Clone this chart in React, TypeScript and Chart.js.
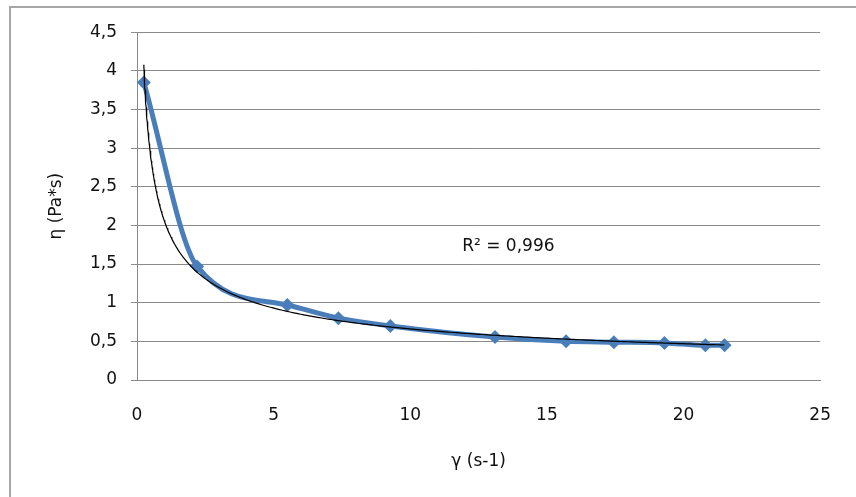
import React, { useEffect, useRef } from "react";
import { Chart, registerables } from "chart.js";

Chart.register(...registerables);

// Measured data (shear rate γ in s-1, viscosity η in Pa*s)
const shearRate = [0.25, 2.2, 5.5, 7.37, 9.27, 13.1, 15.7, 17.45, 19.3, 20.8, 21.5];
const viscosity = [3.85, 1.47, 0.97, 0.8, 0.7, 0.556, 0.5, 0.49, 0.48, 0.45, 0.45];

const xTickValues = [0, 5, 10, 15, 20, 25];
const yTickValues = [0, 0.5, 1, 1.5, 2, 2.5, 3, 3.5, 4, 4.5];

const xTitle = "γ (s-1)";
const yTitle = "η (Pa*s)";
const r2Label = "R² = 0,996";
const r2Anchor = { x: 11.9, y: 1.72 };

const FONT = "'DejaVu Sans', 'Open Sans', sans-serif";
const FONT_SIZE = 17;

// Power-law trendline (least squares in log-log space, like a spreadsheet trendline)
function powerFit(xs: number[], ys: number[]) {
  const lx = xs.map(Math.log);
  const ly = ys.map(Math.log);
  const n = xs.length;
  const mx = lx.reduce((a, b) => a + b, 0) / n;
  const my = ly.reduce((a, b) => a + b, 0) / n;
  let sxy = 0;
  let sxx = 0;
  for (let i = 0; i < n; i++) {
    sxy += (lx[i] - mx) * (ly[i] - my);
    sxx += (lx[i] - mx) * (lx[i] - mx);
  }
  const b = sxy / sxx;
  const a = Math.exp(my - b * mx);
  return { a, b };
}

function trendPoints() {
  const { a, b } = powerFit(shearRate, viscosity);
  const x0 = shearRate[0];
  const x1 = shearRate[shearRate.length - 1];
  const pts: { x: number; y: number }[] = [];
  const steps = 300;
  for (let i = 0; i <= steps; i++) {
    const t = i / steps;
    const x = x0 + (x1 - x0) * t * t;
    pts.push({ x, y: a * Math.pow(x, b) });
  }
  return pts;
}

const fmt = (v: number) => String(v).replace(".", ",");

export default function App() {
  const ref = useRef<HTMLCanvasElement | null>(null);

  useEffect(() => {
    if (!ref.current) return;

    const r2Plugin = {
      id: "r2Label",
      afterDatasetsDraw(chart: any) {
        const { ctx, scales } = chart;
        const px = scales.x.getPixelForValue(r2Anchor.x);
        const py = scales.y.getPixelForValue(r2Anchor.y);
        ctx.save();
        ctx.font = `${FONT_SIZE}px ${FONT}`;
        ctx.fillStyle = "#111111";
        ctx.textAlign = "left";
        ctx.textBaseline = "middle";
        ctx.fillText(r2Label, px, py);
        ctx.restore();
      },
    };

    const chart = new Chart(ref.current, {
      type: "scatter",
      data: {
        datasets: [
          {
            label: "η",
            data: shearRate.map((x, i) => ({ x, y: viscosity[i] })),
            showLine: true,
            borderColor: "#4a7ebb",
            backgroundColor: "#4a7ebb",
            borderWidth: 5,
            cubicInterpolationMode: "monotone",
            pointStyle: "rectRot",
            pointRadius: 7,
            pointBorderWidth: 0,
            pointHoverRadius: 7,
            order: 2,
          },
          {
            label: "trend",
            data: trendPoints(),
            showLine: true,
            borderColor: "#000000",
            borderWidth: 1.2,
            pointRadius: 0,
            tension: 0,
            order: 1,
          },
        ],
      },
      options: {
        animation: false,
        responsive: false,
        events: [],
        layout: { padding: { top: 24, right: 30, bottom: 0, left: 0 } },
        plugins: {
          legend: { display: false },
          tooltip: { enabled: false },
        },
        scales: {
          x: {
            type: "linear",
            min: 0,
            max: 25,
            afterFit: (s: any) => {
              s.height = 117;
            },
            afterBuildTicks: (s: any) => {
              s.ticks = xTickValues.map((v) => ({ value: v }));
            },
            grid: { display: false, drawTicks: false },
            border: { display: true, color: "#8a8a8a", width: 1 },
            ticks: {
              padding: 25,
              color: "#111111",
              font: { family: FONT, size: FONT_SIZE },
              callback: (v: any) => fmt(Number(v)),
            },
            title: {
              display: true,
              text: xTitle,
              color: "#111111",
              font: { family: FONT, size: FONT_SIZE },
              padding: { top: 0, bottom: 25 },
            },
          },
          y: {
            type: "linear",
            min: 0,
            max: 4.5,
            afterFit: (s: any) => {
              s.width = 126;
            },
            afterBuildTicks: (s: any) => {
              s.ticks = yTickValues.map((v) => ({ value: v }));
            },
            grid: {
              color: "#8a8a8a",
              lineWidth: 1,
              drawTicks: true,
              tickLength: 6,
            },
            border: { display: true, color: "#8a8a8a", width: 1 },
            ticks: {
              padding: 14,
              color: "#111111",
              font: { family: FONT, size: FONT_SIZE },
              callback: (v: any) => fmt(Number(v)),
            },
            title: {
              display: true,
              text: yTitle,
              color: "#111111",
              font: { family: FONT, size: FONT_SIZE },
              padding: { top: 35, bottom: 0 },
            },
          },
        },
      },
      plugins: [r2Plugin],
    });

    return () => chart.destroy();
  }, []);

  return (
    <div
      style={{
        position: "fixed",
        left: 9,
        top: 6,
        width: 847,
        height: 491,
        borderLeft: "2px solid #a6a6a6",
        borderTop: "2px solid #a6a6a6",
        background: "#ffffff",
        boxSizing: "border-box",
      }}
    >
      <canvas
        ref={ref}
        width={845}
        height={489}
        style={{ display: "block", width: 845, height: 489 }}
      />
    </div>
  );
}
